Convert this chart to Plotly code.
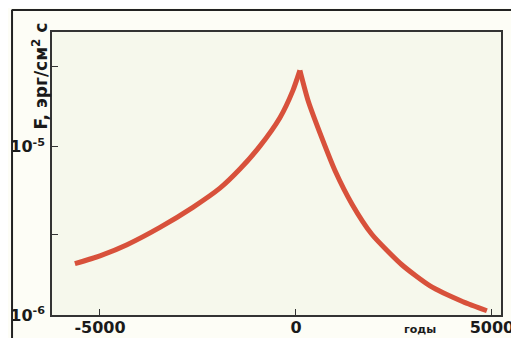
import plotly.graph_objects as go

# Data (years vs flux F, erg/cm^2 s)
years_left = [-5640, -5000, -4310, -3470, -2630, -1940, -1430, -920, -410, -80, 100]
flux_left = [2.02e-6, 2.25e-6, 2.62e-6, 3.32e-6, 4.37e-6, 5.68e-6, 7.38e-6, 1.01e-5, 1.49e-5, 2.16e-5, 2.85e-5]
years_right = [100, 310, 660, 1000, 1430, 1940, 2700, 3420, 4260, 4870]
flux_right = [2.85e-5, 1.88e-5, 1.13e-5, 7.18e-6, 4.56e-6, 3.01e-6, 1.99e-6, 1.49e-6, 1.20e-6, 1.06e-6]

x_ticks = [-5000, 0, 5000]
x_ticklabels = ["-5000", "0", "5000"]
y_ticks = [1e-6, 3e-6, 1e-5, 3e-5]
y_ticklabels = ["10<sup>-6</sup>", "", "10<sup>-5</sup>", ""]

line_color = "#d8513b"

fig = go.Figure()
for xs, ys in [(years_left, flux_left), (years_right, flux_right)]:
    fig.add_trace(go.Scatter(x=xs, y=ys, mode="lines",
                             line=dict(color=line_color, width=5, shape="spline", smoothing=0.6),
                             showlegend=False, hoverinfo="skip"))

font_x = dict(family="DejaVu Sans", size=16, color="#1a1a1a", weight="bold")
font_y = dict(family="DejaVu Sans", size=16, color="#1a1a1a", weight="bold")

fig.update_layout(
    width=511, height=330,
    margin=dict(l=44, r=18, t=24, b=23, autoexpand=False),
    paper_bgcolor="#fdfdf6",
    plot_bgcolor="#f6f8ec",
    xaxis=dict(range=[-6224, 5230], tickvals=x_ticks, ticktext=x_ticklabels,
               ticks="inside", ticklen=6, tickcolor="#333", showgrid=False, zeroline=False,
               showline=True, linecolor="#333", linewidth=1.5, mirror=True,
               tickfont=font_x, automargin=False, ticklabeloverflow="allow",
               ticklabelstandoff=-3),
    yaxis=dict(type="log", range=[-6, -4.317], tickvals=y_ticks, ticktext=y_ticklabels,
               ticks="inside", ticklen=6, tickcolor="#333", showgrid=False, zeroline=False,
               showline=True, linecolor="#333", linewidth=1.5, mirror=True,
               tickfont=font_y, automargin=False, ticklabeloverflow="allow",
               ticklabelstandoff=2),
    annotations=[
        dict(text="F, эрг/см<sup>2</sup> с", xref="paper", yref="paper",
             x=-0.027, y=1.042, xanchor="center", yanchor="top", textangle=-90,
             showarrow=False, font=dict(family="DejaVu Sans", size=17, color="#1a1a1a", weight="bold")),
        dict(text="годы", xref="paper", yref="paper", x=0.82, y=-0.081,
             xanchor="center", yanchor="bottom", showarrow=False,
             font=dict(family="DejaVu Sans", size=11, color="#1a1a1a", weight="bold")),
    ],
    shapes=[
        dict(type="line", xref="paper", yref="paper", x0=-0.09, x1=1.05, y0=1.078, y1=1.078,
             line=dict(color="#222", width=2)),
        dict(type="line", xref="paper", yref="paper", x0=-0.089, x1=-0.089, y0=1.078, y1=-0.12,
             line=dict(color="#222", width=2)),
    ],
)

fig.write_html("out.html")
